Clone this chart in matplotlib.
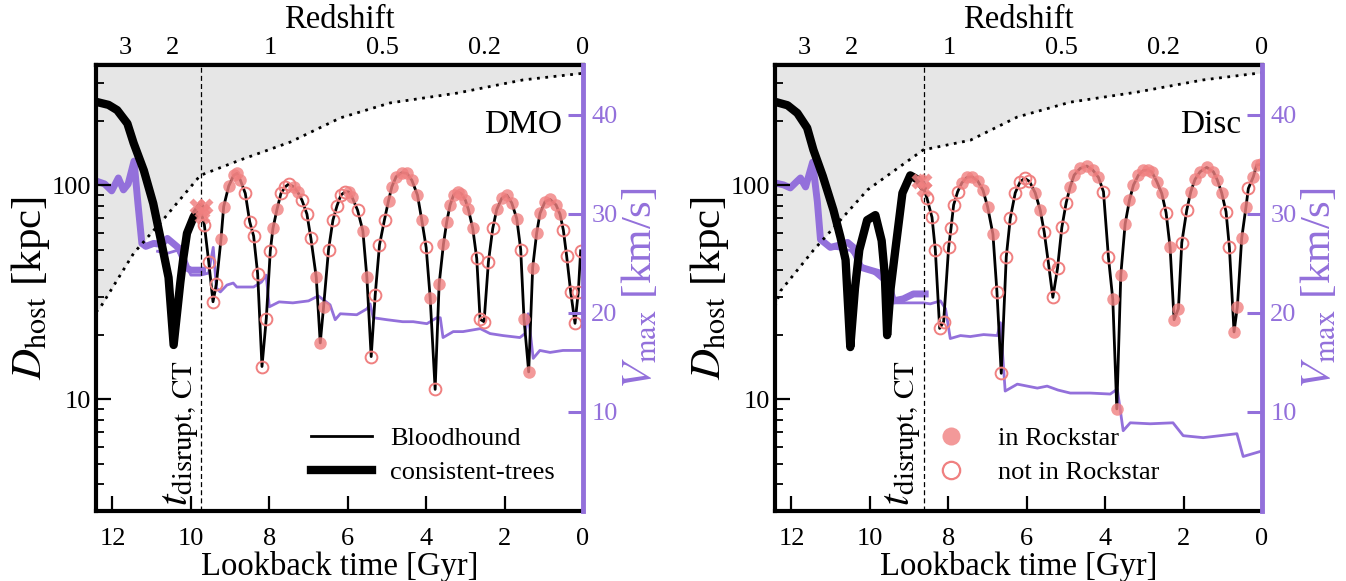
import numpy as np
import matplotlib.pyplot as plt
import matplotlib.transforms as mtransforms
from matplotlib.lines import Line2D
from matplotlib.ticker import LogLocator, NullFormatter

plt.rcParams['font.family'] = ['Liberation Serif', 'DejaVu Serif']
plt.rcParams['mathtext.fontset'] = 'stix'

PURPLE = '#9370DB'
SALMON = '#F08080'

# redshift ticks on the top axis (placed at lookback time)
z_tick_t = [11.67, 10.47, 7.97, 5.12, 2.50, 0.0]
z_tick_lab = ['3', '2', '1', '0.5', '0.2', '0']

# ---------------- DMO panel ----------------
dmo_rvir_t = [12.42, 12.3, 11.46, 10.65, 9.76, 8.74, 7.46, 6.19, 4.92, 3.21, 1.53, 0.0]
dmo_rvir_d = [25.5, 27, 48, 71, 111, 131, 159, 206, 242, 269, 310, 333]

dmo_ct_t = [12.42, 12.1, 11.88, 11.62, 11.46, 11.2, 10.96, 10.73, 10.57, 10.44,
            10.27, 10.19, 10.10, 9.93, 9.76]
dmo_ct_d = [245, 237, 224, 194, 157, 117, 82, 51.5, 37, 17.9, 35, 46, 59.5, 71, 79]

dmo_ctx_t = [9.85, 9.72, 9.63, 9.72]
dmo_ctx_d = [80, 76, 80, 72]

dmo_bh_t = [9.76, 9.656, 9.546, 9.436, 9.351, 9.232, 9.164, 9.036, 8.909, 8.824,
            8.739, 8.612, 8.501, 8.40, 8.298, 8.187, 8.077, 7.975, 7.907, 7.805,
            7.703, 7.593, 7.508, 7.380, 7.278, 7.168, 7.041, 6.939, 6.803, 6.701,
            6.616, 6.489, 6.378, 6.276, 6.174, 6.064, 5.979, 5.894, 5.75, 5.614,
            5.512, 5.402, 5.300, 5.19, 5.062, 4.960, 4.875, 4.765, 4.62, 4.493,
            4.366, 4.221, 4.111, 4.0, 3.898, 3.771, 3.669, 3.559, 3.474, 3.389,
            3.30, 3.20, 3.10, 3.00, 2.922, 2.811, 2.71, 2.625, 2.523, 2.412,
            2.302, 2.2, 2.073, 1.945, 1.818, 1.69, 1.589, 1.504, 1.385, 1.283,
            1.181, 1.096, 0.969, 0.841, 0.688, 0.586, 0.501, 0.417, 0.315, 0.204,
            0.119, 0.06]
dmo_bh_d = [79, 65, 43.9, 28.5, 34.4, 56, 79.3, 98.9, 111, 113.5,
            105.5, 91.4, 67.5, 57.8, 38.6, 14.2, 23.8, 49.3, 62.8, 76.9,
            91.4, 98.2, 101, 98.2, 93, 85.1, 73.2, 56.3, 37.1, 18.3,
            27, 50, 68.5, 79.8, 89.8, 93, 93, 88.2, 76.4, 61.1,
            37.1, 15.8, 30.6, 52.5, 69, 84.5, 98.2, 109.5, 114.3, 113.5,
            105.5, 89.8, 68.5, 51.1, 29.8, 11.1, 34.5, 53, 67.5, 80.8,
            89.8, 93, 91, 85, 76.9, 62.7, 45.4, 23.6, 23, 43.8,
            62.7, 76.9, 86.7, 89.8, 82.6, 69.8, 50, 23.6, 13.4, 41.2,
            59.8, 73.8, 83.6, 85.7, 80.8, 73.1, 61.6, 46.6, 31.8, 22.6,
            31.8, 49.3]
# 1 = found in Rockstar, 0 = not in Rockstar, -1 = no snapshot marker
dmo_bh_rs = [-1, 0, 0, 0, 0, 1, 1, 1, 1, 1,
             1, 0, 0, 0, 0, 0, 0, 0, 1, 1,
             0, 0, 0, 1, 1, 0, 0, 0, 1, 1,
             1, 0, 0, 0, 0, 0, 1, 1, 0, 1,
             1, 0, 0, 0, 0, 1, 1, 1, 1, 1,
             1, 1, 1, 0, 1, 0, 1, 1, 1, 1,
             1, 1, 1, 1, 1, 1, 0, 0, 0, 0,
             0, 1, 1, 1, 1, 1, 0, 1, 1, 1,
             1, 1, 1, 1, 1, 1, 0, 0, 0, 0,
             0, 0]

dmo_vct_t = [12.42, 12.2, 12.02, 11.85, 11.72, 11.6, 11.45, 11.35, 11.25, 11.15,
             10.95, 10.75, 10.6, 10.45, 10.3, 10.2, 10.1, 10.0, 9.85, 9.7]
dmo_vct_v = [33.3, 33.0, 32.3, 33.6, 32.4, 33.0, 35.3, 31.0, 27.0, 26.7,
             27.0, 26.9, 27.5, 27.0, 26.5, 25.5, 24.5, 24.3, 24.3, 24.3]

dmo_vbh_t = [10.85, 10.6, 10.35, 10.15, 10.0, 9.75, 9.55, 9.43, 9.35, 9.25,
             9.08, 8.92, 8.83, 8.55, 8.40, 8.20, 8.08, 8.0, 7.75, 7.4,
             7.0, 6.75, 6.55, 6.45, 6.32, 6.19, 5.77, 5.51, 5.43, 5.35,
             5.0, 4.6, 4.33, 3.98, 3.73, 3.64, 3.57, 3.31, 3.06, 2.62,
             2.37, 2.04, 1.61, 1.48, 1.40, 1.27, 1.10, 0.84, 0.51, 0.15, 0.0]
dmo_vbh_v = [26.2, 26.0, 26.3, 25.0, 23.8, 23.8, 24.0, 26.6, 22.5, 22.1,
             22.8, 23.0, 22.6, 22.6, 22.6, 23.1, 23.8, 20.6, 21.1, 21.0,
             21.2, 21.7, 21.1, 20.8, 19.3, 19.9, 19.8, 20.4, 20.9, 19.5,
             19.3, 19.1, 19.1, 18.9, 19.5, 19.5, 17.5, 18.1, 18.1, 18.4,
             17.9, 17.7, 17.5, 17.9, 19.9, 15.4, 16.2, 16.0, 16.2, 16.2, 16.2]

dmo_tdis = 9.73

# ---------------- Disc panel ----------------
disc_rvir_t = [12.42, 12.28, 11.44, 10.06, 8.64, 7.44, 6.24, 4.89, 3.18, 1.50, 0.0]
disc_rvir_d = [27, 32, 49.6, 95, 146, 162, 208, 244, 272, 310, 335]

disc_ct_t = [12.42, 12.1, 11.85, 11.6, 11.44, 11.2, 10.93, 10.75, 10.62, 10.50,
             10.38, 10.27, 10.07, 9.86, 9.70, 9.62, 9.56, 9.47, 9.35, 9.17,
             8.97, 8.76, 8.64]
disc_ct_d = [245, 236, 217, 185, 146, 110, 76.5, 57, 44.7, 17.5,
             33, 49.7, 68.6, 72.4, 55, 38, 19.9, 33, 50, 91.8,
             111, 105.5, 98]

disc_ctx_t = [8.75, 8.63, 8.62]
disc_ctx_d = [104, 96, 104]

disc_bh_t = [8.64, 8.544, 8.416, 8.331, 8.221, 8.119, 7.992, 7.932, 7.864, 7.762,
             7.652, 7.524, 7.397, 7.253, 7.117, 6.998, 6.862, 6.76, 6.65, 6.522,
             6.42, 6.293, 6.166, 6.05, 5.93, 5.784, 5.656, 5.555, 5.444, 5.334,
             5.215, 5.105, 4.994, 4.892, 4.79, 4.637, 4.468, 4.315, 4.17, 4.043,
             3.916, 3.805, 3.703, 3.601, 3.491, 3.38, 3.278, 3.151, 3.024, 2.92,
             2.811, 2.683, 2.556, 2.446, 2.344, 2.242, 2.131, 2.046, 1.919, 1.817,
             1.707, 1.579, 1.41, 1.24, 1.138, 1.028, 0.917, 0.832, 0.713, 0.628,
             0.518, 0.408, 0.348, 0.221, 0.136, 0.03]
disc_bh_d = [98, 86.7, 70.7, 49.7, 21.4, 23.0, 51.1, 62.7, 80.8, 93.1,
             102.6, 108.7, 109.4, 104.7, 94.8, 79.2, 59.0, 31.7, 13.2, 46.2,
             69.9, 92.0, 103.8, 107.5, 104, 92.0, 76.4, 60.5, 42.8, 29.9,
             40.8, 63.4, 82.7, 98.2, 111.4, 119.7, 122.7, 117.5, 108.6, 93.1,
             45.9, 29.2, 9.0, 38.0, 65.8, 85.1, 100, 111.4, 117.0, 117.5,
             115.4, 103.8, 91.4, 74.3, 51.2, 23.5, 26.5, 53.8, 76.4, 93.1,
             106.4, 115.4, 121, 115.4, 105.5, 92.0, 75.0, 51.2, 20.6, 27.0,
             56.4, 79.2, 96.4, 109.4, 124, 125]
disc_bh_rs = [-1, 0, 0, 0, 0, 0, 0, 0, 0, 0,
              1, 1, 1, 1, 1, 1, 1, 0, 0, 0,
              0, 0, 0, 0, 0, 1, 1, 0, 0, 0,
              0, 0, 0, 1, 1, 1, 1, 1, 1, 0,
              0, 1, 1, 1, 1, 1, 1, 1, 1, 1,
              1, 1, 1, 0, 1, 1, 1, 0, 0, 1,
              1, 1, 1, 1, 1, 1, 0, 0, 1, 1,
              1, 1, 0, 1, 1, 1]

disc_vct_t = [12.42, 12.2, 12.03, 11.85, 11.77, 11.64, 11.46, 11.34, 11.26, 11.01,
              10.80, 10.57, 10.42, 10.24, 9.99, 9.73, 9.55, 9.40, 9.15, 8.89, 8.59]
disc_vct_v = [33.1, 32.9, 32.6, 33.3, 33.6, 32.7, 35.2, 31.2, 27.4, 26.6,
              26.8, 27.1, 26.6, 24.6, 24.3, 24.0, 23.3, 21.2, 21.4, 21.9, 21.9]

disc_vbh_t = [10.9, 10.5, 10.2, 9.9, 9.6, 9.4, 9.0, 8.64, 8.46, 8.2,
              8.07, 7.95, 7.69, 7.44, 7.1, 6.75, 6.67, 6.55, 6.24, 5.73,
              5.48, 5.2, 4.89, 4.38, 3.87, 3.69, 3.54, 3.36, 2.85, 2.27,
              2.01, 1.50, 1.07, 0.64, 0.48, 0.05, 0.0]
disc_vbh_v = [26.5, 26.3, 24.8, 24.0, 23.0, 21.0, 21.0, 21.0, 20.9, 21.2,
              20.4, 17.4, 17.7, 17.6, 17.8, 17.7, 19.0, 12.1, 12.8, 12.4,
              12.6, 12.2, 11.9, 11.9, 11.8, 12.3, 8.1, 8.9, 8.8, 8.9,
              7.6, 7.4, 7.6, 7.8, 5.5, 6.0, 6.0]

disc_tdis = 8.63


def draw_panel(ax, rvir_t, rvir_d, ct_t, ct_d, ctx_t, ctx_d, bh_t, bh_d, bh_rs,
               vct_t, vct_v, vbh_t, vbh_v, tdis, name):
    ax.set_yscale('log')
    ax.set_xlim(12.42, 0)
    ax.set_ylim(3, 364)
    ax.autoscale(False)

    vax = ax.twinx()
    vax.set_ylim(0, 45)

    # host virial radius and the region outside it
    ax.fill_between(rvir_t, rvir_d, 364, color='#e6e6e6', lw=0, zorder=0.5)
    ax.plot(rvir_t, rvir_d, color='k', ls=(0, (1, 2.0)), lw=2, zorder=1.8)

    # Vmax histories, drawn in the right-hand axis units
    ax.plot(vct_t, vct_v, color=PURPLE, lw=5, solid_joinstyle='round',
            transform=vax.transData, zorder=1.5)
    ax.plot(vbh_t, vbh_v, color=PURPLE, lw=2, transform=vax.transData, zorder=1.6)

    # orbits
    ax.plot(ct_t, ct_d, color='k', lw=6, solid_capstyle='round',
            solid_joinstyle='round', zorder=2)
    ax.plot(bh_t, bh_d, color='k', lw=2, zorder=2.1)

    bh_t = np.asarray(bh_t)
    bh_d = np.asarray(bh_d)
    bh_rs = np.asarray(bh_rs)
    inn = bh_rs == 1
    out = bh_rs == 0
    ax.plot(bh_t[inn], bh_d[inn], 'o', ls='none', ms=9, mfc=SALMON, mec='none',
            alpha=0.8, zorder=3)
    ax.plot(bh_t[out], bh_d[out], 'o', ls='none', ms=8.5, mfc='none', mec=SALMON,
            mew=1.4, zorder=3.1)
    ax.plot(ctx_t, ctx_d, 'X', ls='none', ms=12, mfc=SALMON, mec='none',
            alpha=0.85, zorder=3.2)

    # disruption time of the consistent-trees branch
    ax.axvline(tdis, color='k', ls=(0, (4, 2.5)), lw=0.9, zorder=1.9)
    trans = mtransforms.blended_transform_factory(ax.transData, ax.transAxes)
    ax.text(tdis + 0.52, 0.012, r'$t_{\rm disrupt,\,CT}$', rotation=90,
            transform=trans, ha='center', va='bottom', fontsize=30)

    ax.text(0.957, 0.865, name, transform=ax.transAxes, ha='right', va='center',
            fontsize=24)

    # axes styling
    ax.set_xticks([12, 10, 8, 6, 4, 2, 0])
    ax.set_yticks([10, 100])
    ax.set_yticklabels(['10', '100'])
    ax.yaxis.set_minor_locator(LogLocator(base=10, subs=np.arange(2, 10)))
    ax.yaxis.set_minor_formatter(NullFormatter())
    ax.tick_params(axis='both', which='major', direction='in', length=11, width=1.6,
                   labelsize=19, top=False, right=False)
    ax.tick_params(axis='y', which='minor', direction='in', length=6, width=1.3,
                   right=False)
    ax.tick_params(axis='x', which='major', pad=12)
    for side in ['left', 'bottom', 'top']:
        ax.spines[side].set_linewidth(3)
    ax.spines['right'].set_visible(False)

    ax.set_xlabel('Lookback time [Gyr]', fontsize=23.5, labelpad=1)
    ax.set_ylabel(r'$D_{\rm host}$ [kpc]', fontsize=31, labelpad=0)

    sec = ax.secondary_xaxis('top')
    sec.set_xticks(z_tick_t, labels=z_tick_lab)
    sec.tick_params(direction='in', length=11, width=1.6, labelsize=19, pad=4)
    sec.spines['top'].set_linewidth(3)
    sec.set_xlabel('Redshift', fontsize=23.5, labelpad=7)

    vax.set_yticks([10, 20, 30, 40])
    vax.tick_params(axis='y', colors=PURPLE, direction='in', length=11, width=2.2,
                    labelsize=19, pad=6)
    vax.spines['right'].set_color(PURPLE)
    vax.spines['right'].set_linewidth(3.5)
    for side in ['left', 'bottom', 'top']:
        vax.spines[side].set_visible(False)
    vax.set_ylabel(r'$V_{\rm max}$ [km/s]', fontsize=31, color=PURPLE, labelpad=2)
    return vax


fig = plt.figure(figsize=(13.46, 5.81), dpi=100)
ax1 = fig.add_axes([96 / 1346, 70 / 581, 487 / 1346, 446 / 581])
ax2 = fig.add_axes([775 / 1346, 70 / 581, 487 / 1346, 446 / 581])

draw_panel(ax1, dmo_rvir_t, dmo_rvir_d, dmo_ct_t, dmo_ct_d, dmo_ctx_t, dmo_ctx_d,
           dmo_bh_t, dmo_bh_d, dmo_bh_rs, dmo_vct_t, dmo_vct_v, dmo_vbh_t, dmo_vbh_v,
           dmo_tdis, 'DMO')
draw_panel(ax2, disc_rvir_t, disc_rvir_d, disc_ct_t, disc_ct_d, disc_ctx_t, disc_ctx_d,
           disc_bh_t, disc_bh_d, disc_bh_rs, disc_vct_t, disc_vct_v, disc_vbh_t,
           disc_vbh_v, disc_tdis, 'Disc')

line_handles = [Line2D([], [], color='k', lw=2),
                Line2D([], [], color='k', lw=6)]
ax1.legend(line_handles, ['Bloodhound', 'consistent-trees'], loc='lower right',
           bbox_to_anchor=(0.97, 0.03), frameon=False, fontsize=19,
           handlelength=2.3, handletextpad=0.7, labelspacing=0.42, borderpad=0)

marker_handles = [Line2D([], [], marker='o', ls='none', ms=13, mfc=SALMON,
                         mec='none', alpha=0.8),
                  Line2D([], [], marker='o', ls='none', ms=12.5, mfc='none',
                         mec=SALMON, mew=1.6)]
ax2.legend(marker_handles, ['in Rockstar', 'not in Rockstar'], loc='lower left',
           bbox_to_anchor=(0.28, 0.03), frameon=False, fontsize=19,
           handlelength=2.0, handletextpad=0.8, labelspacing=0.42, borderpad=0)

fig.savefig('out.png', dpi=100)
